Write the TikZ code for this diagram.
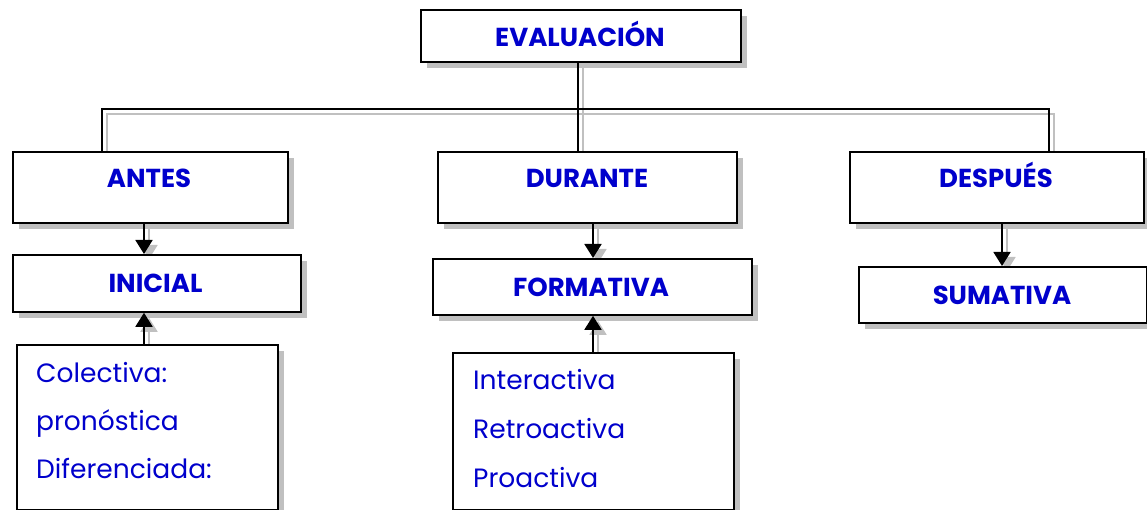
\documentclass[tikz,border=0pt]{standalone}
\usepackage{fontspec}
\setmainfont{Poppins}
\usetikzlibrary{arrows.meta,shadows,backgrounds,calc}
\definecolor{txtblue}{RGB}{0,0,204}
\definecolor{shgray}{RGB}{192,192,192}
\begin{document}
\begin{tikzpicture}[x=1pt,y=-1pt,
  box/.style={draw=black, line width=1.8pt, fill=white, inner sep=0pt, anchor=north west,
    drop shadow={shadow xshift=6pt, shadow yshift=-6pt, fill=shgray, opacity=1}},
  ttl/.style={anchor=base, inner sep=0pt, text=txtblue, font=\fontsize{26}{30}\selectfont\bfseries},
  itm/.style={anchor=base west, inner sep=0pt, text=txtblue, font=\fontsize{26.5}{32}\selectfont},
  ln/.style={line width=1.8pt},
  arr/.style={line width=1.8pt, -{Triangle[width=17pt,length=14pt]}},
  shd/.style={draw=shgray, line width=1.8pt, transform canvas={xshift=5pt,yshift=-5pt}},
  shdarr/.style={shd, fill=shgray, -{Triangle[width=17pt,length=14pt]}}
]
\useasboundingbox (0,0) rectangle (1147,510);
% boxes
\node[box, minimum width=320, minimum height=52] (eval) at (420,9) {};
\node[box, minimum width=275, minimum height=71] (antes) at (12,151) {};
\node[box, minimum width=299, minimum height=71] (durante) at (437,151) {};
\node[box, minimum width=294, minimum height=71] (despues) at (849,151) {};
\node[box, minimum width=288, minimum height=57] (inicial) at (12,254) {};
\node[box, minimum width=319, minimum height=56] (formativa) at (432,258) {};
\node[box, minimum width=288, minimum height=56] (sumativa) at (858,266) {};
\node[box, minimum width=261, minimum height=165] (colectiva) at (16,344) {};
\node[box, minimum width=281, minimum height=157] (interactiva) at (452,352) {};
% titles
\node[ttl] (tEval) at (580,46.5) {EVALUACIÓN};
\node[ttl] (tAntes) at (149,188) {ANTES};
\node[ttl] (tDurante) at (587,188) {DURANTE};
\node[ttl] (tDespues) at (996,188) {DESPUÉS};
\node[ttl] (tInicial) at (155.5,293) {INICIAL};
\node[ttl] (tFormativa) at (591,296) {FORMATIVA};
\node[ttl] (tSumativa) at (1002,304) {SUMATIVA};
% items
\node[itm] (c1) at (36,382) {Colectiva:};
\node[itm] (c2) at (36,430) {pronóstica};
\node[itm] (c3) at (36,478) {Diferenciada:};
\node[itm] (i1) at (473,389) {Interactiva};
\node[itm] (i2) at (473,438) {Retroactiva};
\node[itm] (i3) at (473,487) {Proactiva};
% connector coordinates
\coordinate (vm) at (578,0);
\coordinate (hl) at (102,109);
\coordinate (hr) at (1049,109);
\coordinate (xa) at (144,0);
\coordinate (xd) at (593,0);
\coordinate (xs) at (1002,0);
% connector shadows
\begin{scope}[on background layer]
\draw[shd] (vm |- eval.south) -- (vm |- durante.north);
\draw[shd] (hl |- antes.north) -- (hl) -- (hr) -- (hr |- despues.north);
\draw[shdarr] (xa |- antes.south) -- (xa |- inicial.north);
\draw[shdarr] (xa |- colectiva.north) -- (xa |- inicial.south);
\draw[shdarr] (xd |- durante.south) -- (xd |- formativa.north);
\draw[shdarr] (xd |- interactiva.north) -- (xd |- formativa.south);
\draw[shdarr] (xs |- despues.south) -- (xs |- sumativa.north);
\end{scope}
% connectors
\draw[ln] (vm |- eval.south) -- (vm |- durante.north);
\draw[ln] (hl |- antes.north) -- (hl) -- (hr) -- (hr |- despues.north);
\draw[arr] (xa |- antes.south) -- (xa |- inicial.north);
\draw[arr] (xa |- colectiva.north) -- (xa |- inicial.south);
\draw[arr] (xd |- durante.south) -- (xd |- formativa.north);
\draw[arr] (xd |- interactiva.north) -- (xd |- formativa.south);
\draw[arr] (xs |- despues.south) -- (xs |- sumativa.north);
\end{tikzpicture}
\end{document}
